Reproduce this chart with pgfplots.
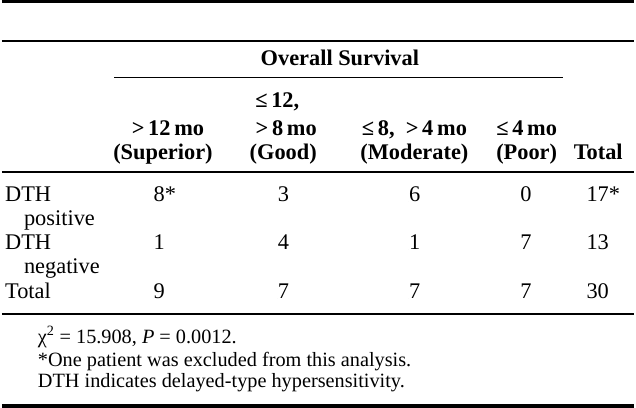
\documentclass[border=0pt]{standalone}
\usepackage{fontspec}
\setmainfont{Liberation Serif}
\usepackage{pgfplots}
\usepackage{pgfplotstable}
\pgfplotsset{compat=1.18}
\newcommand\fs{\fontsize{22.5}{25}\selectfont}
\newcommand\fn{\fontsize{20.4}{23}\selectfont}
% table body: x = left edge of the entry, y = baseline (pixels from top)
\pgfplotstableread{
x y label
152.5 204 8*
277.5 204 3
409.5 204 6
521.5 204 0
588 204 17*
}\rowpos
\pgfplotstableread{
x y label
152.5 253 1
277.5 253 4
409.5 253 1
521.5 253 7
588 253 13
}\rowneg
\pgfplotstableread{
x y label
152.5 302 9
277.5 302 7
409.5 302 7
521.5 302 7
588 302 30
}\rowtot
\begin{document}
\begin{tikzpicture}
\begin{axis}[
  scale only axis, width=636pt, height=414pt,
  xmin=0, xmax=636, ymin=0, ymax=414, y dir=reverse,
  axis lines=none, clip=false,
  every node near coord/.append style={font=\fs, text=black, anchor=base west, inner sep=0pt},
]
% rules
\draw[line width=3pt] (axis cs:0,3) -- (axis cs:636,3);
\draw[line width=1.5pt] (axis cs:0,43) -- (axis cs:636,43);
\draw[line width=1.2pt] (axis cs:113,79.5) -- (axis cs:565,79.5);
\draw[line width=2pt] (axis cs:0,174.5) -- (axis cs:636,174.5);
\draw[line width=2pt] (axis cs:0,317) -- (axis cs:636,317);
\draw[line width=4pt] (axis cs:0,410) -- (axis cs:636,410);
% header
\node[anchor=base, font=\fs\bfseries, inner sep=0pt] at (axis cs:340,67) {Overall Survival};
\node[anchor=base, font=\fs\bfseries, inner sep=0pt] at (axis cs:167,138) {>\,12\,mo};
\node[anchor=base, font=\fs\bfseries, inner sep=0pt] at (axis cs:162,162) {(Superior)};
\node[anchor=base, font=\fs\bfseries, inner sep=0pt] at (axis cs:277,110) {≤\,12,};
\node[anchor=base, font=\fs\bfseries, inner sep=0pt] at (axis cs:286,138) {>\,8\,mo};
\node[anchor=base, font=\fs\bfseries, inner sep=0pt] at (axis cs:283,162) {(Good)};
\node[anchor=base, font=\fs\bfseries, inner sep=0pt] at (axis cs:415,138) {≤\,8,\ \ >\,4\,mo};
\node[anchor=base, font=\fs\bfseries, inner sep=0pt] at (axis cs:415,162) {(Moderate)};
\node[anchor=base, font=\fs\bfseries, inner sep=0pt] at (axis cs:528,138) {≤\,4\,mo};
\node[anchor=base, font=\fs\bfseries, inner sep=0pt] at (axis cs:528,162) {(Poor)};
\node[anchor=base, font=\fs\bfseries, inner sep=0pt] at (axis cs:600,162) {Total};
% row labels
\node[anchor=base west, font=\fs, inner sep=0pt] at (axis cs:3,204) {DTH};
\node[anchor=base west, font=\fs, inner sep=0pt] at (axis cs:22,228) {positive};
\node[anchor=base west, font=\fs, inner sep=0pt] at (axis cs:3,253) {DTH};
\node[anchor=base west, font=\fs, inner sep=0pt] at (axis cs:22,277) {negative};
\node[anchor=base west, font=\fs, inner sep=0pt] at (axis cs:3,302) {Total};
% values
\addplot[only marks, mark=*, mark size=0pt, nodes near coords, point meta=explicit symbolic] table[x=x, y=y, meta=label] {\rowpos};
\addplot[only marks, mark=*, mark size=0pt, nodes near coords, point meta=explicit symbolic] table[x=x, y=y, meta=label] {\rowneg};
\addplot[only marks, mark=*, mark size=0pt, nodes near coords, point meta=explicit symbolic] table[x=x, y=y, meta=label] {\rowtot};
% footnotes
\node[anchor=base west, font=\fn, inner sep=0pt] at (axis cs:36,347) {χ\textsuperscript{2} = 15.908, \textit{P} = 0.0012.};
\node[anchor=base west, font=\fn, inner sep=0pt] at (axis cs:36,370) {*One patient was excluded from this analysis.};
\node[anchor=base west, font=\fn, inner sep=0pt] at (axis cs:36,391) {DTH indicates delayed-type hypersensitivity.};
\end{axis}
\end{tikzpicture}
\end{document}
